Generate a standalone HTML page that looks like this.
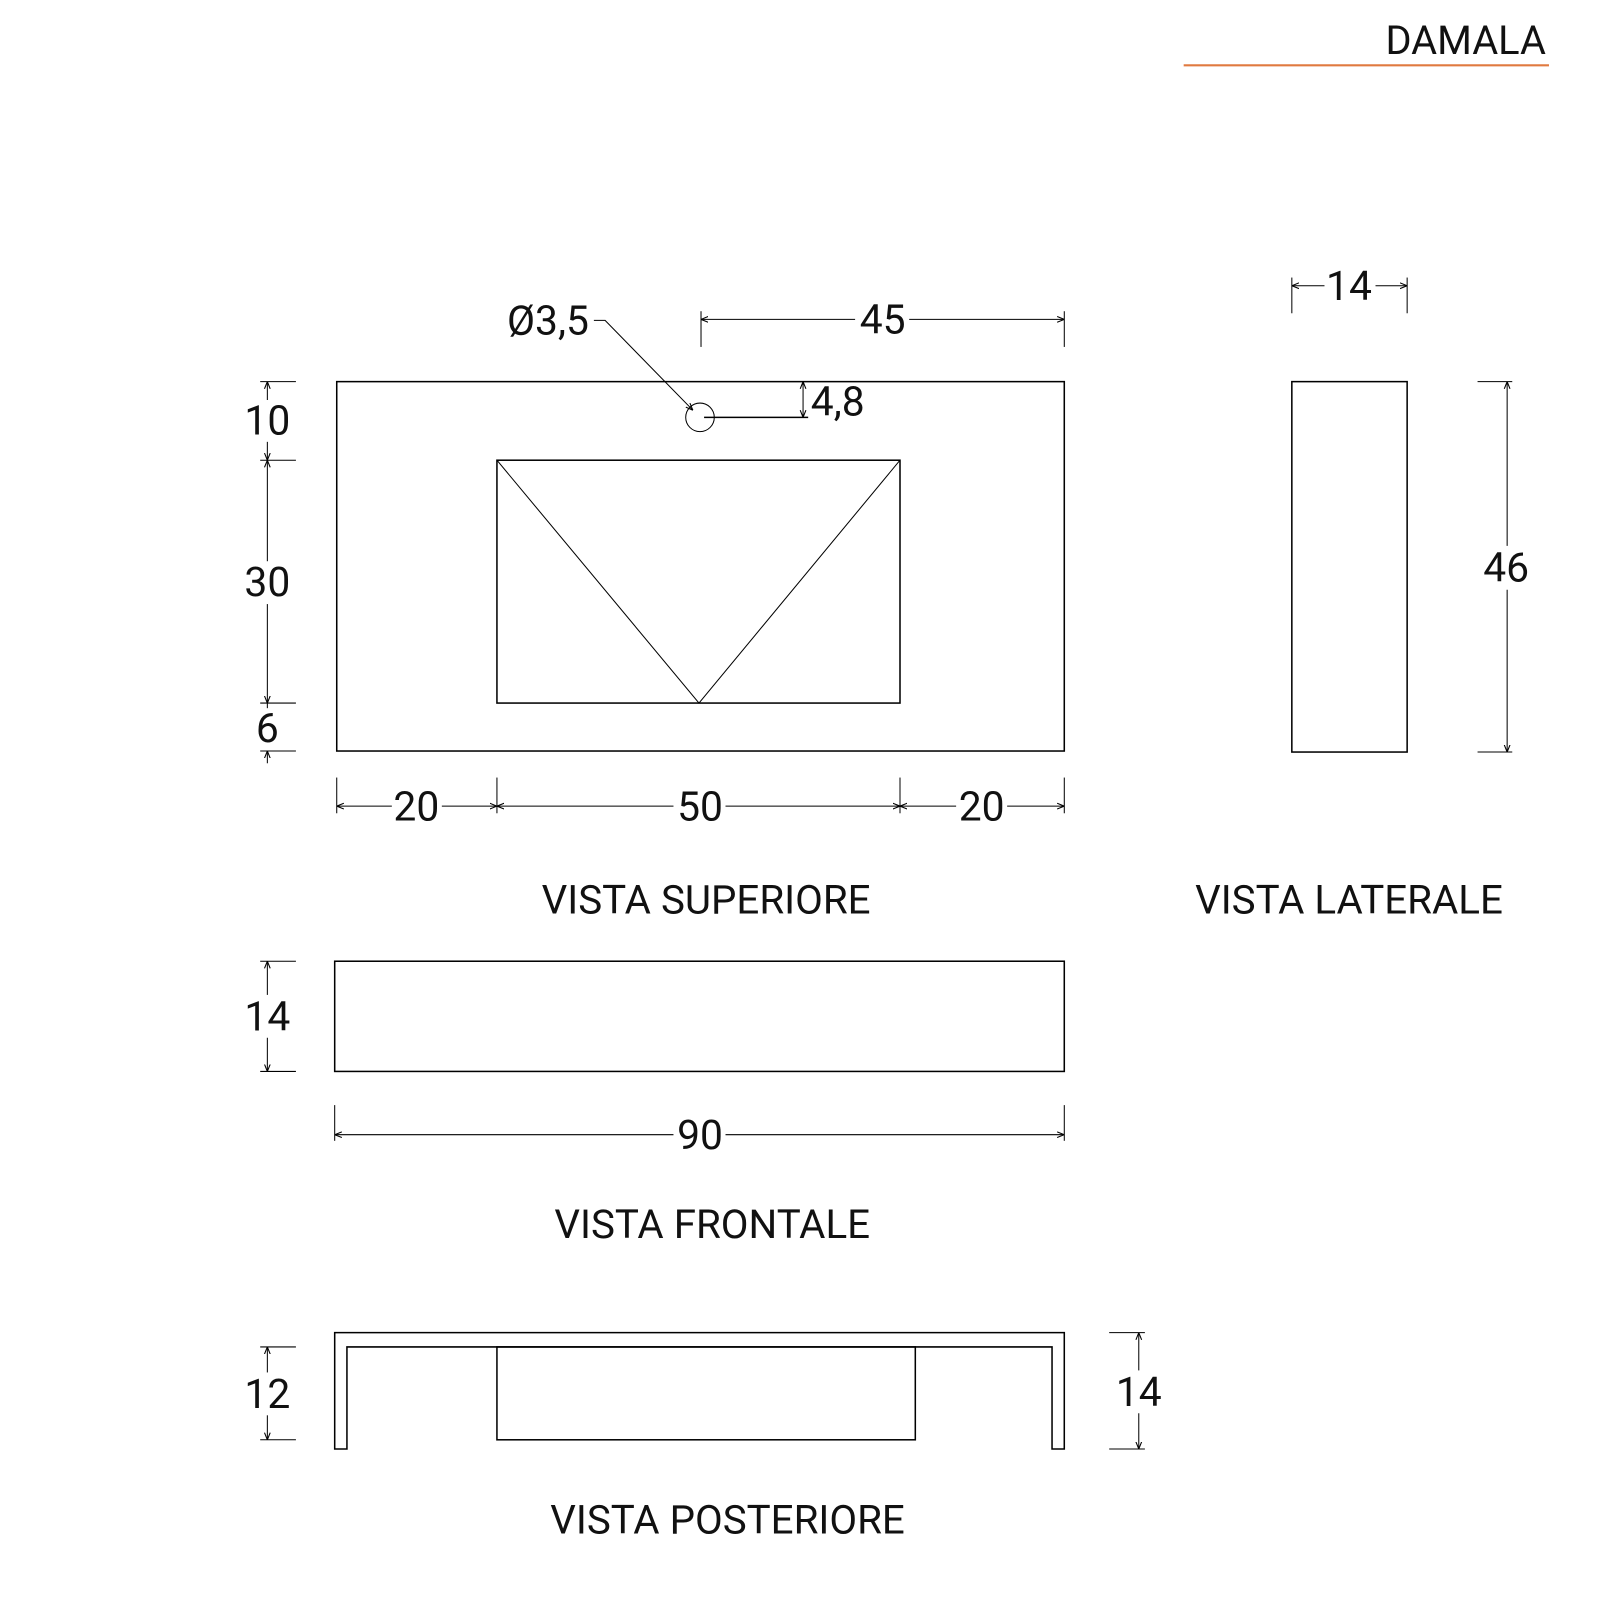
<!DOCTYPE html>
<html><head><meta charset="utf-8"><style>html,body{margin:0;padding:0;background:#fff}svg{display:block}</style></head>
<body>
<svg width="1600" height="1600" viewBox="0 0 1568 1568" xmlns="http://www.w3.org/2000/svg">
<defs>
<marker id="a" viewBox="0 0 10 10" refX="10" refY="5" markerWidth="7" markerHeight="7" orient="auto-start-reverse"><path d="M0,1 L10,5 L0,9" fill="none" stroke="#000" stroke-width="1.5"/></marker>
</defs>
<g font-family="Roboto, 'Liberation Sans', sans-serif" fill="#111">
<text x="1515" y="53" font-size="39" text-anchor="end">DAMALA</text>
<line x1="1160" y1="64" x2="1518" y2="64" stroke="#e07a40" stroke-width="2"/>
<g stroke="#000" stroke-width="1.5" fill="none">
<rect x="330" y="374" width="713" height="362"/>
<rect x="487" y="451" width="395" height="238"/>
<polyline points="487,451 685,689 882,451" stroke-width="1"/>
<circle cx="686" cy="409" r="14" stroke-width="1"/>
<line x1="690" y1="409" x2="792" y2="409"/>
<line x1="787" y1="374" x2="787" y2="409" marker-start="url(#a)" marker-end="url(#a)" stroke-width="1"/>
<polyline points="582,314 593,314 679,402" stroke-width="1" marker-end="url(#a)"/>
<line x1="255" y1="374" x2="290" y2="374" stroke-width="1"/>
<line x1="255" y1="451" x2="290" y2="451" stroke-width="1"/>
<line x1="255" y1="689" x2="290" y2="689" stroke-width="1"/>
<line x1="255" y1="736" x2="290" y2="736" stroke-width="1"/>
<line x1="262" y1="374" x2="262" y2="392" marker-start="url(#a)" stroke-width="1"/>
<line x1="262" y1="433" x2="262" y2="451" marker-end="url(#a)" stroke-width="1"/>
<line x1="262" y1="451" x2="262" y2="550" marker-start="url(#a)" stroke-width="1"/>
<line x1="262" y1="592" x2="262" y2="689" marker-end="url(#a)" stroke-width="1"/>
<line x1="262" y1="689" x2="262" y2="694" stroke-width="1"/>
<line x1="262" y1="736" x2="262" y2="748" marker-start="url(#a)" stroke-width="1"/>
<line x1="330" y1="762" x2="330" y2="797" stroke-width="1"/>
<line x1="487" y1="762" x2="487" y2="797" stroke-width="1"/>
<line x1="882" y1="762" x2="882" y2="797" stroke-width="1"/>
<line x1="1043" y1="762" x2="1043" y2="797" stroke-width="1"/>
<line x1="330" y1="790" x2="384" y2="790" marker-start="url(#a)" stroke-width="1"/>
<line x1="433" y1="790" x2="487" y2="790" marker-end="url(#a)" stroke-width="1"/>
<line x1="487" y1="790" x2="660" y2="790" marker-start="url(#a)" stroke-width="1"/>
<line x1="711" y1="790" x2="882" y2="790" marker-end="url(#a)" stroke-width="1"/>
<line x1="882" y1="790" x2="937" y2="790" marker-start="url(#a)" stroke-width="1"/>
<line x1="987" y1="790" x2="1043" y2="790" marker-end="url(#a)" stroke-width="1"/>
<line x1="687" y1="305" x2="687" y2="340" stroke-width="1"/>
<line x1="1043" y1="305" x2="1043" y2="340" stroke-width="1"/>
<line x1="687" y1="313" x2="838" y2="313" marker-start="url(#a)" stroke-width="1"/>
<line x1="891" y1="313" x2="1043" y2="313" marker-end="url(#a)" stroke-width="1"/>
<rect x="1266" y="374" width="113" height="363"/>
<line x1="1266" y1="272" x2="1266" y2="307" stroke-width="1"/>
<line x1="1379" y1="272" x2="1379" y2="307" stroke-width="1"/>
<line x1="1266" y1="280" x2="1298" y2="280" marker-start="url(#a)" stroke-width="1"/>
<line x1="1348" y1="280" x2="1379" y2="280" marker-end="url(#a)" stroke-width="1"/>
<line x1="1448" y1="374" x2="1482" y2="374" stroke-width="1"/>
<line x1="1448" y1="737" x2="1482" y2="737" stroke-width="1"/>
<line x1="1477" y1="374" x2="1477" y2="535" marker-start="url(#a)" stroke-width="1"/>
<line x1="1477" y1="578" x2="1477" y2="737" marker-end="url(#a)" stroke-width="1"/>
<rect x="328" y="942" width="715" height="108"/>
<line x1="255" y1="942" x2="290" y2="942" stroke-width="1"/>
<line x1="255" y1="1050" x2="290" y2="1050" stroke-width="1"/>
<line x1="262" y1="942" x2="262" y2="975" marker-start="url(#a)" stroke-width="1"/>
<line x1="262" y1="1017" x2="262" y2="1050" marker-end="url(#a)" stroke-width="1"/>
<line x1="328" y1="1083" x2="328" y2="1118" stroke-width="1"/>
<line x1="1043" y1="1083" x2="1043" y2="1118" stroke-width="1"/>
<line x1="328" y1="1112" x2="660" y2="1112" marker-start="url(#a)" stroke-width="1"/>
<line x1="711" y1="1112" x2="1043" y2="1112" marker-end="url(#a)" stroke-width="1"/>
<path d="M328,1420 V1306 H1043 V1420 H1031 V1320 H340 V1420 Z"/>
<rect x="487" y="1320" width="410" height="91"/>
<line x1="255" y1="1320" x2="290" y2="1320" stroke-width="1"/>
<line x1="255" y1="1411" x2="290" y2="1411" stroke-width="1"/>
<line x1="262" y1="1320" x2="262" y2="1345" marker-start="url(#a)" stroke-width="1"/>
<line x1="262" y1="1387" x2="262" y2="1411" marker-end="url(#a)" stroke-width="1"/>
<line x1="1087" y1="1306" x2="1122" y2="1306" stroke-width="1"/>
<line x1="1087" y1="1420" x2="1122" y2="1420" stroke-width="1"/>
<line x1="1116" y1="1306" x2="1116" y2="1343" marker-start="url(#a)" stroke-width="1"/>
<line x1="1116" y1="1385" x2="1116" y2="1420" marker-end="url(#a)" stroke-width="1"/>
</g>
<g font-size="40" text-anchor="middle">
<text x="262" y="426">10</text>
<text x="262" y="584">30</text>
<text x="262" y="727">6</text>
<text x="408" y="804">20</text>
<text x="686" y="804">50</text>
<text x="962" y="804">20</text>
<text x="865" y="327">45</text>
<text x="537" y="328">Ø3,5</text>
<text x="821" y="407">4,8</text>
<text x="1322" y="294">14</text>
<text x="1476" y="570">46</text>
<text x="262" y="1010">14</text>
<text x="686" y="1126">90</text>
<text x="262" y="1380">12</text>
<text x="1116" y="1378">14</text>
</g>
<g font-size="39.5" text-anchor="middle">
<text x="692" y="895">VISTA SUPERIORE</text>
<text x="1322" y="895">VISTA LATERALE</text>
<text x="698" y="1213">VISTA FRONTALE</text>
<text x="713" y="1503">VISTA POSTERIORE</text>
</g>
</g>
</svg>
</body></html>
